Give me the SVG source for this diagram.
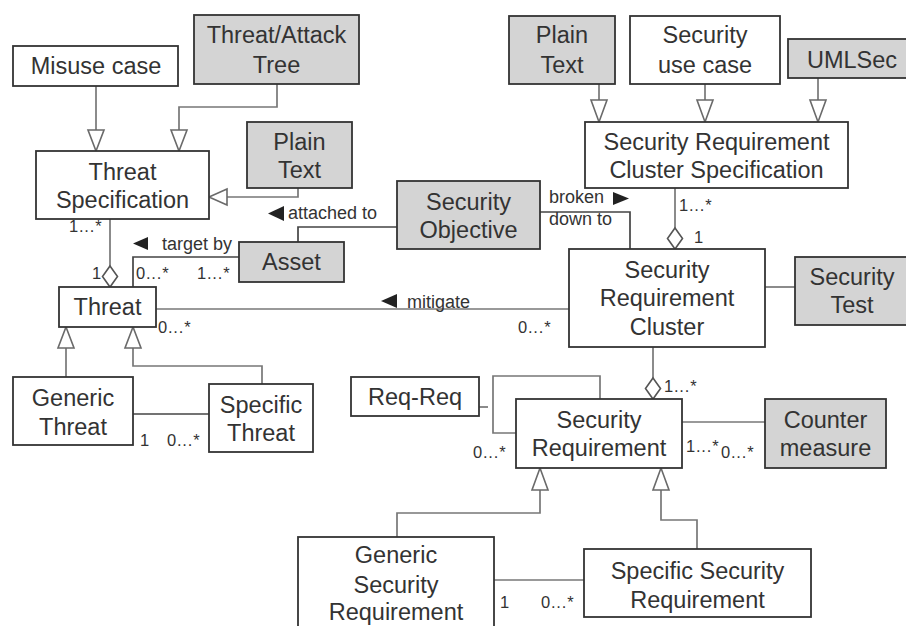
<svg xmlns="http://www.w3.org/2000/svg" width="906" height="626" viewBox="0 0 906 626">
<defs>
<style>
.box{fill:#fff;stroke:#333;stroke-width:1.8}
.g{fill:#d4d4d4}
.t{font-family:"Liberation Sans",Arial,sans-serif;font-size:23.5px;fill:#333;text-anchor:middle}
.l{font-family:"Liberation Sans",Arial,sans-serif;font-size:18px;fill:#333}
.m{font-family:"Liberation Sans",Arial,sans-serif;font-size:16.5px;fill:#333;letter-spacing:0.8px}
.c{fill:none;stroke:#777;stroke-width:1.7}
.d{stroke:#444}
.tri{fill:#fff;stroke:#6a6a6a;stroke-width:1.6}
.dia{fill:#fff;stroke:#555;stroke-width:1.6}
.arr{fill:#222}
</style>
</defs>
<rect width="906" height="626" fill="#fff"/>

<g id="connectors">
<path class="c" d="M96,86V130"/>
<polygon class="tri" points="88,130 104,130 96,151"/>
<path class="c" d="M277,84V107H179V130"/>
<polygon class="tri" points="171,130 187,130 179,151"/>
<path class="c" d="M298,188V197H227"/>
<polygon class="tri" points="227,189 227,205 209,197"/>
<path class="c d" d="M397,227H298V242"/>
<path class="c" d="M110,219V266"/>
<polygon class="dia" points="110,266 117.5,276.5 110,287 102.5,276.5"/>
<path class="c d" d="M133,287V257H239"/>
<path class="c" d="M156,309H569"/>
<path class="c" d="M66,377V348"/>
<polygon class="tri" points="58,348 74,348 66,327"/>
<path class="c" d="M262,384V366H133V348"/>
<polygon class="tri" points="125,348 141,348 133,327"/>
<path class="c d" d="M133,414H209"/>
<path class="c" d="M599,84V100"/>
<polygon class="tri" points="591,100 607,100 599,122"/>
<path class="c" d="M705,84V100"/>
<polygon class="tri" points="697,100 713,100 705,122"/>
<path class="c" d="M818,78V100"/>
<polygon class="tri" points="810,100 826,100 818,122"/>
<path class="c d" d="M540,212H630V249"/>
<path class="c" d="M675,188V228"/>
<polygon class="dia" points="675,228 682.5,238.5 675,249 667.5,238.5"/>
<path class="c" d="M765,287H795"/>
<path class="c" d="M653,347V378"/>
<polygon class="dia" points="653,378 660.5,388.5 653,399 645.5,388.5"/>
<path class="c" d="M600,399V376H493V433H516"/>
<path class="c" d="M479,407H488"/>
<path class="c" d="M682,422H765"/>
<path class="c" d="M540,490V513H397V537"/>
<polygon class="tri" points="532,490 548,490 540,468"/>
<path class="c" d="M661,490V520H697V549"/>
<polygon class="tri" points="653,490 669,490 661,468"/>
<path class="c" d="M494,580H584"/>
</g>

<g id="labels">
<polygon class="arr" points="284,206 284,221 268,213.5"/>
<text class="l" x="288" y="219">attached to</text>
<polygon class="arr" points="148,237 148,250 133,243.5"/>
<text class="l" x="162" y="250">target by</text>
<polygon class="arr" points="397,294 397,308 381,301"/>
<text class="l" x="407" y="308">mitigate</text>
<text class="l" x="549" y="203">broken</text>
<polygon class="arr" points="613,192 613,205 629,198.5"/>
<text class="l" x="549" y="225">down to</text>
<text class="m" x="69" y="232">1...*</text>
<text class="m" x="92" y="279">1</text>
<text class="m" x="136" y="279">0...*</text>
<text class="m" x="197" y="279">1...*</text>
<text class="m" x="158" y="333">0...*</text>
<text class="m" x="140" y="446">1</text>
<text class="m" x="167" y="446">0...*</text>
<text class="m" x="679" y="211">1...*</text>
<text class="m" x="694" y="243">1</text>
<text class="m" x="518" y="333">0...*</text>
<text class="m" x="664" y="392">1...*</text>
<text class="m" x="473" y="458">0...*</text>
<text class="m" x="686" y="452">1...*</text>
<text class="m" x="721" y="458">0...*</text>
<text class="m" x="500" y="608">1</text>
<text class="m" x="541" y="608">0...*</text>
</g>

<g id="misuse-case"><rect class="box" x="13" y="46" width="165" height="40"/><text class="t" x="96" y="74">Misuse case</text></g>
<g id="threat-attack-tree"><rect class="box g" x="194" y="15" width="165" height="69"/><text class="t" x="276.5" y="43">Threat/Attack</text><text class="t" x="276.5" y="73">Tree</text></g>
<g id="threat-specification"><rect class="box" x="36" y="151" width="173" height="68"/><text class="t" x="122.5" y="180">Threat</text><text class="t" x="122.5" y="208">Specification</text></g>
<g id="plain-text-left"><rect class="box g" x="247" y="122" width="105" height="66"/><text class="t" x="299.5" y="150">Plain</text><text class="t" x="299.5" y="178">Text</text></g>
<g id="security-objective"><rect class="box g" x="397" y="181" width="143" height="68"/><text class="t" x="468.5" y="210">Security</text><text class="t" x="468.5" y="238">Objective</text></g>
<g id="asset"><rect class="box g" x="239" y="242" width="105" height="40"/><text class="t" x="291.5" y="270">Asset</text></g>
<g id="threat"><rect class="box" x="59" y="287" width="97" height="40"/><text class="t" x="107.5" y="315">Threat</text></g>
<g id="generic-threat"><rect class="box" x="13" y="377" width="120" height="68"/><text class="t" x="73" y="406">Generic</text><text class="t" x="73" y="435">Threat</text></g>
<g id="specific-threat"><rect class="box" x="209" y="384" width="104" height="68"/><text class="t" x="261" y="413">Specific</text><text class="t" x="261" y="441">Threat</text></g>
<g id="plain-text-right"><rect class="box g" x="509" y="16" width="106" height="68"/><text class="t" x="562" y="43">Plain</text><text class="t" x="562" y="73">Text</text></g>
<g id="security-use-case"><rect class="box" x="630" y="16" width="150" height="68"/><text class="t" x="705" y="43">Security</text><text class="t" x="705" y="73">use case</text></g>
<g id="umlsec"><rect class="box g" x="788" y="39" width="128" height="39"/><text class="t" x="852" y="68">UMLSec</text></g>
<g id="security-requirement-cluster-specification"><rect class="box" x="585" y="122" width="263" height="66"/><text class="t" x="716.5" y="150">Security Requirement</text><text class="t" x="716.5" y="178">Cluster Specification</text></g>
<g id="security-requirement-cluster"><rect class="box" x="569" y="249" width="196" height="98"/><text class="t" x="667" y="278">Security</text><text class="t" x="667" y="306">Requirement</text><text class="t" x="667" y="335">Cluster</text></g>
<g id="security-test"><rect class="box g" x="795" y="257" width="120" height="68"/><text class="t" x="852" y="285">Security</text><text class="t" x="852" y="313">Test</text></g>
<g id="req-req"><rect class="box" x="351" y="377" width="128" height="39"/><text class="t" x="415" y="405">Req-Req</text></g>
<g id="security-requirement"><rect class="box" x="516" y="399" width="166" height="69"/><text class="t" x="599" y="428">Security</text><text class="t" x="599" y="456">Requirement</text></g>
<g id="counter-measure"><rect class="box g" x="765" y="399" width="121" height="69"/><text class="t" x="825.5" y="428">Counter</text><text class="t" x="825.5" y="456">measure</text></g>
<g id="generic-security-requirement"><rect class="box" x="298" y="537" width="196" height="100"/><text class="t" x="396" y="563">Generic</text><text class="t" x="396" y="593">Security</text><text class="t" x="396" y="620">Requirement</text></g>
<g id="specific-security-requirement"><rect class="box" x="584" y="549" width="227" height="68"/><text class="t" x="697.5" y="579">Specific Security</text><text class="t" x="697.5" y="608">Requirement</text></g>
</svg>
